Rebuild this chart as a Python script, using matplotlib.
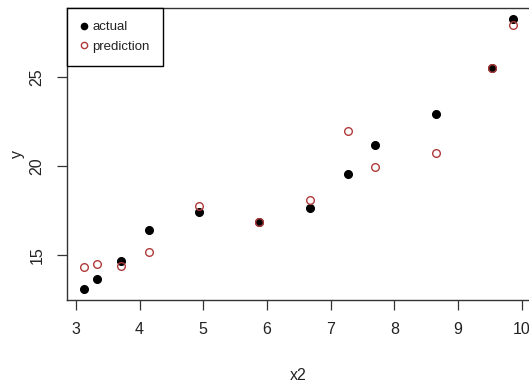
import matplotlib
matplotlib.use("Agg")
import matplotlib.pyplot as plt
from matplotlib.lines import Line2D

plt.rcParams['font.family'] = ['Liberation Sans Narrow', 'Liberation Sans', 'DejaVu Sans']

x2 = [3.126, 3.335, 3.713, 4.153, 4.934, 5.88, 6.68, 7.27, 7.69, 8.65, 9.53, 9.87]
actual = [13.07, 13.67, 14.66, 16.40, 17.42, 16.87, 17.62, 19.53, 21.16, 22.94, 25.49, 28.27]
prediction = [14.34, 14.48, 14.36, 15.19, 17.77, 16.85, 18.09, 21.97, 19.96, 20.75, 25.49, 27.92]
xticks = [3, 4, 5, 6, 7, 8, 9, 10]
yticks = [15, 20, 25]

W, H = 529, 386
fig = plt.figure(figsize=(W / 100, H / 100), dpi=100)
left, right, top, bottom = 66.8, 530.5, 8.0, 300.2
ax = fig.add_axes([left / W, (H - bottom) / H, (right - left) / W, (bottom - top) / H])

pred_color = '#b03a3a'
ax.plot(x2, actual, 'o', color='black', markersize=5.5, linestyle='none')
ax.plot(x2, prediction, 'o', markerfacecolor='none', markeredgecolor=pred_color,
        markeredgewidth=1.0, markersize=5.5, linestyle='none')

xr = max(x2) - min(x2)
allv = actual + prediction
yr = max(allv) - min(allv)
ax.set_xlim(min(x2) - 0.04 * xr, max(x2) + 0.04 * xr)
ax.set_ylim(min(allv) - 0.04 * yr, max(allv) + 0.04 * yr)

ax.set_xticks(xticks)
ax.set_yticks(yticks)
ax.tick_params(axis='both', direction='out', length=7, width=0.9, color='#333333',
               labelsize=11.5, labelcolor='#222222')
ax.tick_params(axis='x', pad=9)
ax.tick_params(axis='y', pad=9)
for lab in ax.get_yticklabels():
    lab.set_rotation(90)
    lab.set_va('center')
for s in ax.spines.values():
    s.set_linewidth(1.0)
    s.set_color('#333333')

ax.set_xlabel('x2', fontsize=11.5, color='#222222', labelpad=22)
ax.set_ylabel('y', fontsize=11.5, color='#222222', labelpad=3)

handles = [
    Line2D([], [], marker='o', color='black', linestyle='none', markersize=4.5),
    Line2D([], [], marker='o', markerfacecolor='none', markeredgecolor=pred_color,
           linestyle='none', markersize=4.5),
]
leg = ax.legend(handles, ['actual', 'prediction'], loc='upper left',
                bbox_to_anchor=(0, 1), borderaxespad=0, fancybox=False,
                framealpha=1, edgecolor='black', fontsize=9.5,
                handlelength=0.6, handletextpad=0.35, borderpad=1.0,
                labelspacing=0.55)
leg.get_frame().set_linewidth(1.0)
for t in leg.get_texts():
    t.set_color('#222222')

fig.savefig('out.png', dpi=100)
